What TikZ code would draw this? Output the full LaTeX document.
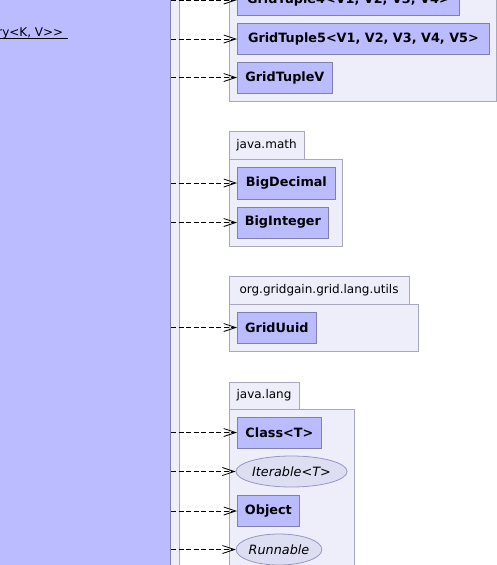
\documentclass[tikz,border=0pt]{standalone}
\usepackage{fontspec}
\setmainfont{DejaVu Sans}
\usetikzlibrary{arrows.meta}
\definecolor{clsfill}{RGB}{187,187,255}
\definecolor{clsdraw}{RGB}{128,128,176}
\definecolor{pkgfill}{RGB}{238,238,250}
\definecolor{pkgdraw}{RGB}{168,168,188}
\definecolor{ifcfill}{RGB}{222,222,242}
\definecolor{ifcdraw}{RGB}{150,150,196}
\tikzset{
  cls/.style={draw=clsdraw, fill=clsfill, line width=0.8pt, anchor=west,
    minimum height=31pt, inner sep=0pt, font=\fontsize{12.8}{15}\selectfont\bfseries},
  ifc/.style={ellipse, draw=ifcdraw, fill=ifcfill, line width=0.8pt,
    minimum height=31pt, inner sep=0pt, font=\fontsize{12.8}{15}\selectfont\itshape},
  pkg/.style={draw=pkgdraw, fill=pkgfill, line width=0.8pt},
  pkglabel/.style={font=\fontsize{12}{14}\selectfont, inner sep=0pt},
  dep/.style={draw=black, line width=0.8pt, dash pattern=on 5pt off 2.5pt,
    -{Straight Barb[length=12pt,width=8pt,line width=0.8pt]}},
}
\usetikzlibrary{shapes.geometric}
\begin{document}
\begin{tikzpicture}[x=1pt,y=-1pt]
\useasboundingbox (0,0) rectangle (497,565);
\clip (0,0) rectangle (497,565);
% outer package strip
\draw[pkg] (-10,-20) rectangle (179,600);
% big class box
\node (src) [draw=clsdraw, fill=clsfill, line width=0.8pt, minimum width=200pt,
  minimum height=640pt, anchor=north east, inner sep=0pt] at (171,-30) {};
\node (lbl) [anchor=base east, inner sep=0pt, font=\fontsize{12}{14}\selectfont] at (63.5,36) {ry<K, V>{}>};
\draw[line width=0.8pt] ([yshift=-2.5pt]lbl.base west) -- ([yshift=-2.5pt,xshift=4pt]lbl.base east);

% package of tuples
\draw[pkg] (229,-40) rectangle (496,101);
\node (t4) [cls, minimum width=222pt] at (237,0) {GridTuple4<V1, V2, V3, V4>};
\node (t5) [cls, minimum width=252pt] at (237,39) {GridTuple5<V1, V2, V3, V4, V5>};
\node (tv) [cls, minimum width=95pt] at (237,77.5) {GridTupleV};

% java.math
\draw[pkg] (229,131) rectangle (304,159);
\draw[pkg] (229,159) rectangle (342,246);
\node (mathlbl) [pkglabel] at (266.5,145.5) {java.math};
\node (bd) [cls, minimum width=98pt, minimum height=32pt] at (237,183) {BigDecimal};
\node (bi) [cls, minimum width=91pt] at (237,222.5) {BigInteger};

% org.gridgain.grid.lang.utils
\draw[pkg] (229,276) rectangle (409,304);
\draw[pkg] (229,304) rectangle (418,351);
\node (utilslbl) [pkglabel] at (319,290.5) {org.gridgain.grid.lang.utils};
\node (uuid) [cls, minimum width=79pt] at (237,327.5) {GridUuid};

% java.lang
\draw[pkg] (229,382) rectangle (299,409);
\draw[pkg] (229,409) rectangle (354,600);
\node (langlbl) [pkglabel] at (264,395.5) {java.lang};
\node (cls) [cls, minimum width=84pt] at (237,432.5) {Class<T>};
\node (iter) [ifc, minimum width=109pt] at (291.5,471.5) {Iterable<T>};
\node (obj) [cls, minimum width=62pt] at (237,511) {Object};
\node (run) [ifc, minimum width=85pt] at (279,549.5) {Runnable};

% dependencies
\foreach \n in {t4,t5,tv,bd,bi,uuid,cls,iter,obj,run}
  \draw[dep] (src.east |- \n.west) -- (\n.west);
\end{tikzpicture}
\end{document}
